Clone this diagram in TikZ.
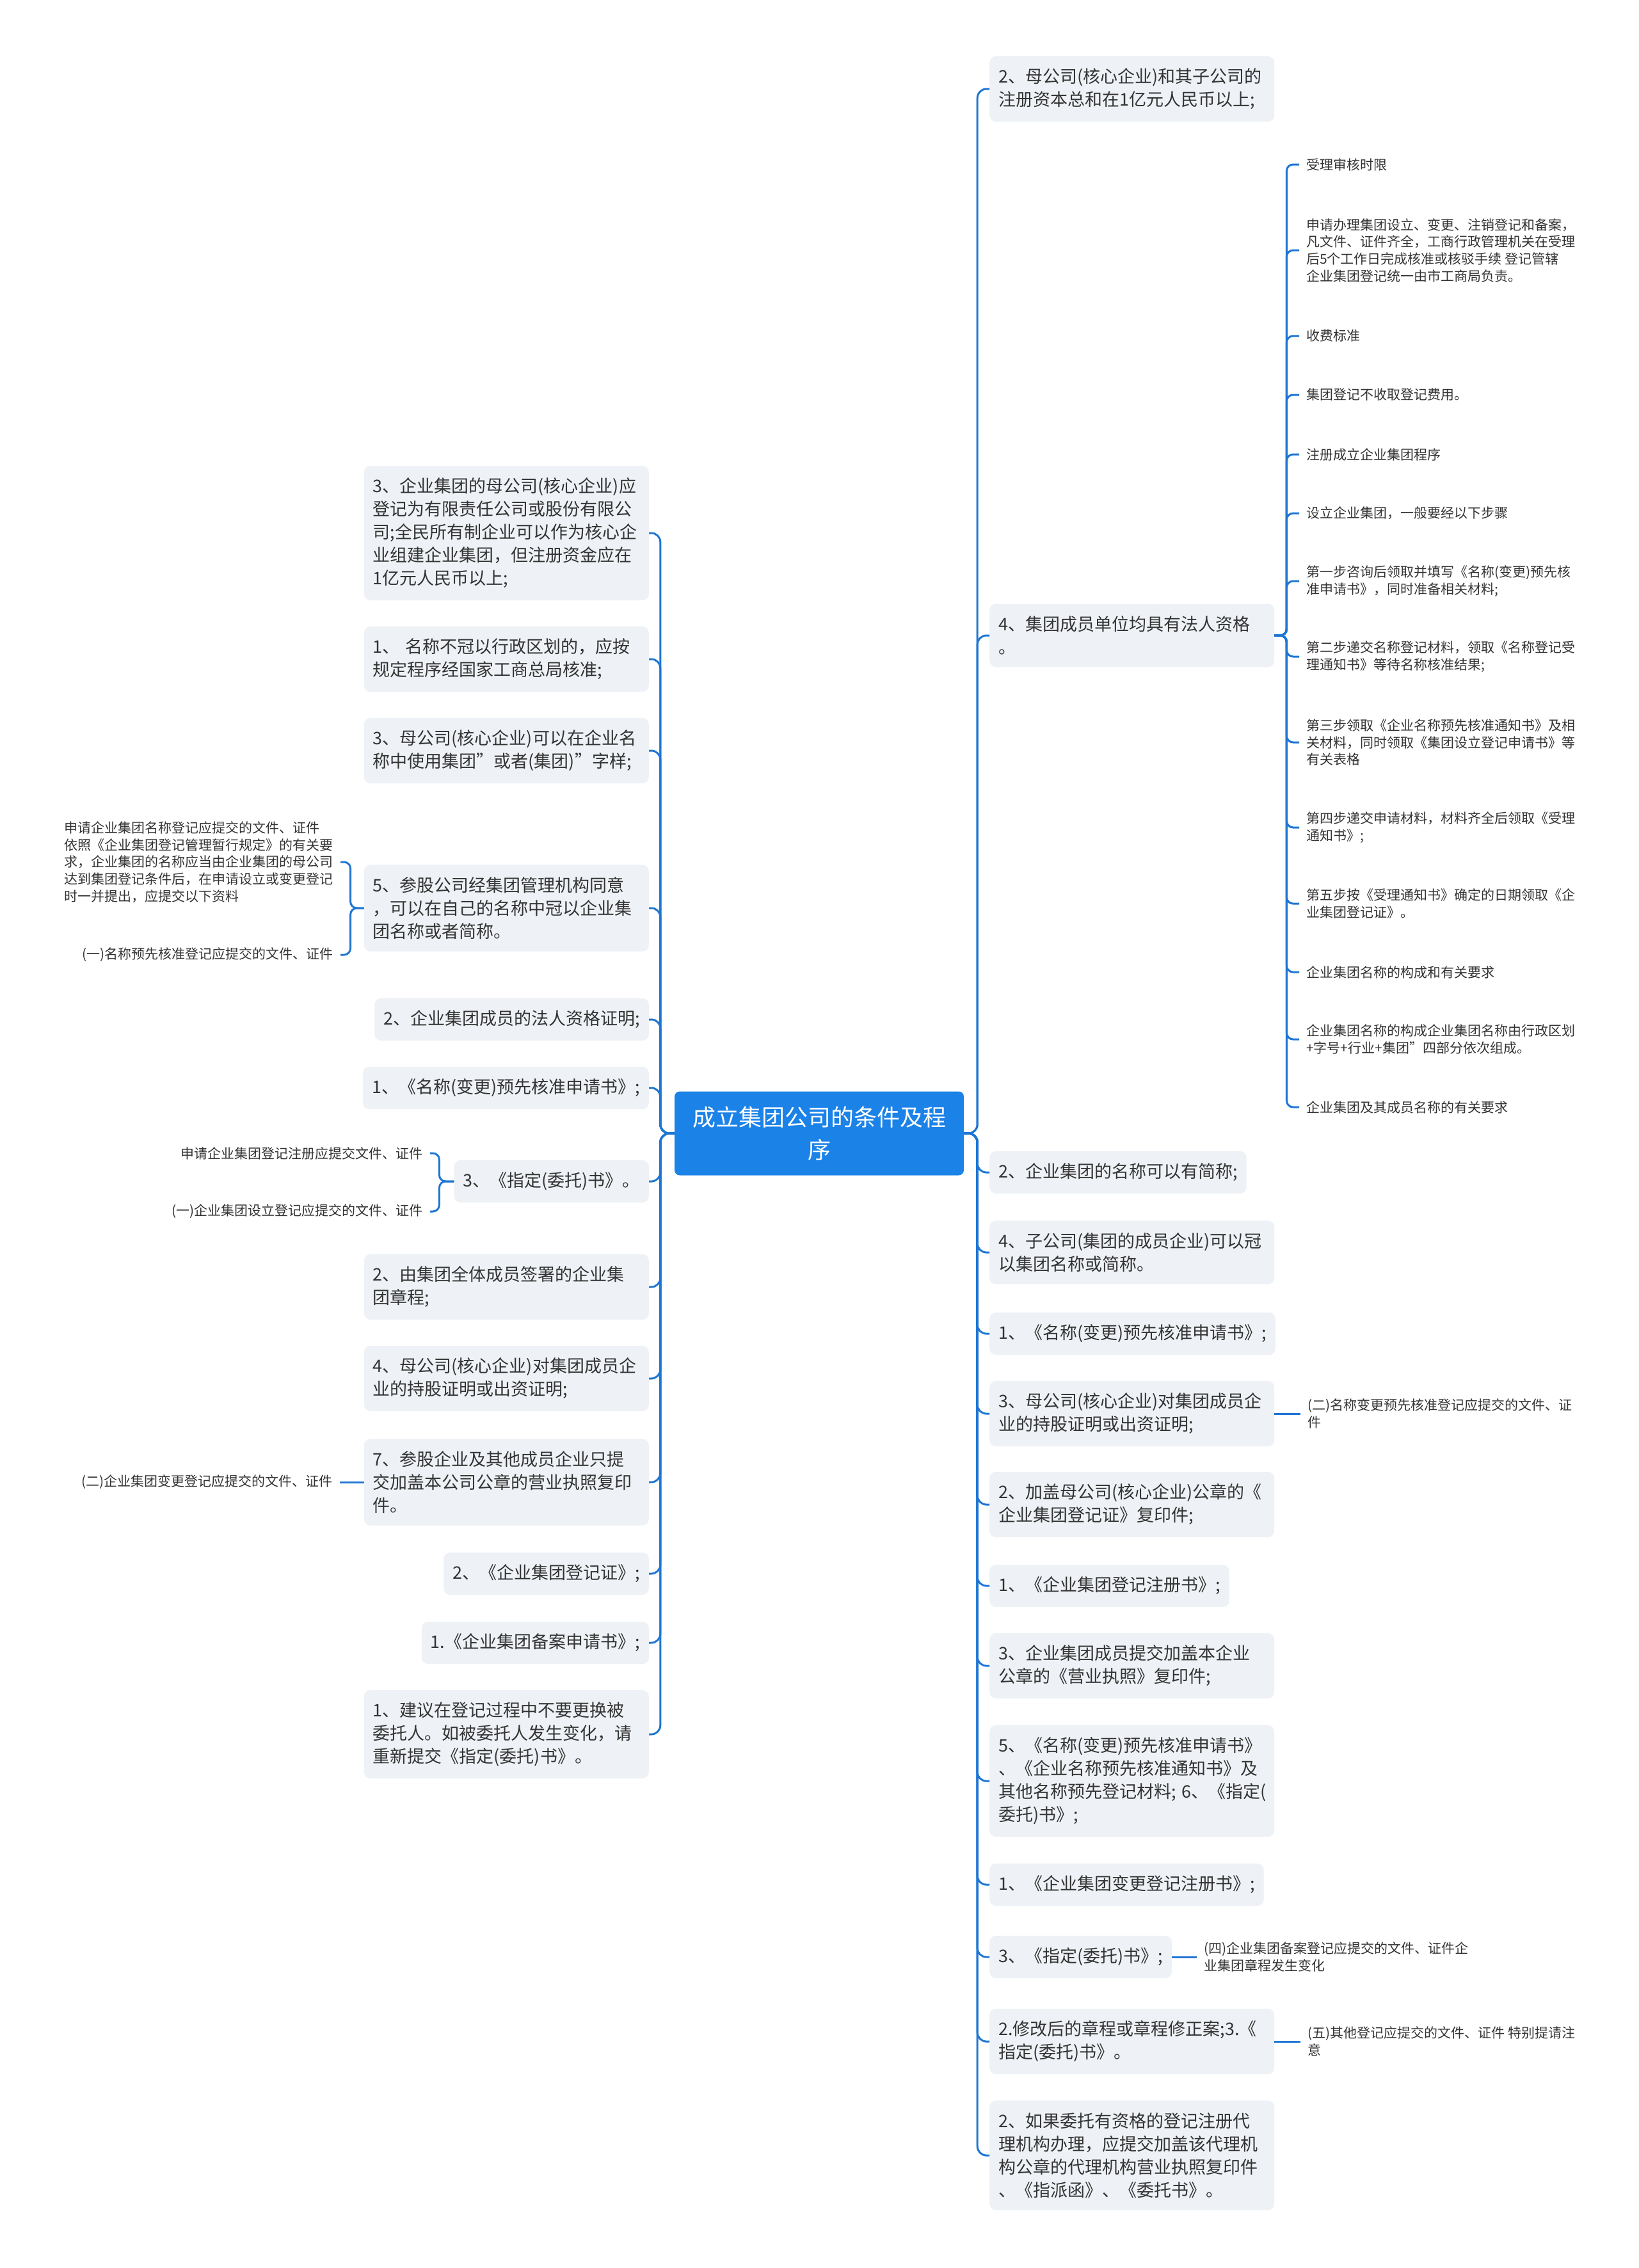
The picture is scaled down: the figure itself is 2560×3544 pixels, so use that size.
\documentclass[tikz,border=0pt]{standalone}
\usepackage{fontspec}
\setmainfont{Noto Sans CJK SC}
\usetikzlibrary{positioning}
\definecolor{rootblue}{HTML}{1B82E8}
\definecolor{linkblue}{HTML}{1E76D3}
\definecolor{boxgray}{HTML}{EEF1F5}
\definecolor{textdark}{HTML}{333333}

\begin{document}
\begin{tikzpicture}[x=1pt,y=-1pt,
    card/.style={fill=boxgray,rounded corners=10pt,inner xsep=14pt,inner ysep=19pt,
      text width=417pt,align=left,text=textdark,font=\fontsize{27}{36}\selectfont},
    cardone/.style={fill=boxgray,rounded corners=10pt,inner xsep=14pt,inner ysep=19pt,
      text=textdark,font=\fontsize{27}{36}\selectfont},
    leaf/.style={inner xsep=11pt,inner ysep=0pt,align=left,text=textdark,
      font=\fontsize{21}{26.7}\selectfont},
    link/.style={draw=linkblue,line width=3pt,rounded corners=14pt},
    twig/.style={draw=linkblue,line width=3pt,rounded corners=10pt}]
  \fill[white] (0,0) rectangle (2560,3544);
  \useasboundingbox (0,0) rectangle (2560,3544);
  \node[fill=rootblue,rounded corners=8pt,minimum width=452pt,minimum height=131pt,
        text width=420pt,align=center,text=white,font=\fontsize{36}{51}\selectfont]
        (root) at (1280,1771) {成立集团公司的条件及程\\序};
  \node[card,anchor=east] (l1) at (1014,833) {3、企业集团的母公司(核心企业)应\\登记为有限责任公司或股份有限公\\司;全民所有制企业可以作为核心企\\业组建企业集团，但注册资金应在\\1亿元人民币以上;};
  \node[card,anchor=east] (l2) at (1014,1030) {1、~名称不冠以行政区划的，应按\\规定程序经国家工商总局核准;};
  \node[card,anchor=east] (l3) at (1014,1173) {3、母公司(核心企业)可以在企业名\\称中使用集团”或者(集团)”字样;};
  \node[card,anchor=east] (l4) at (1014,1419) {5、参股公司经集团管理机构同意\\，可以在自己的名称中冠以企业集\\团名称或者简称。};
  \node[cardone,anchor=east] (l5) at (1014,1593) {2、企业集团成员的法人资格证明;};
  \node[cardone,anchor=east] (l6) at (1014,1700) {1、《名称(变更)预先核准申请书》;};
  \node[cardone,anchor=east] (l7) at (1014,1846) {3、《指定(委托)书》。};
  \node[card,anchor=east] (l8) at (1014,2011) {2、由集团全体成员签署的企业集\\团章程;};
  \node[card,anchor=east] (l9) at (1014,2154) {4、母公司(核心企业)对集团成员企\\业的持股证明或出资证明;};
  \node[card,anchor=east] (l10) at (1014,2316) {7、参股企业及其他成员企业只提\\交加盖本公司公章的营业执照复印\\件。};
  \node[cardone,anchor=east] (l11) at (1014,2459) {2、《企业集团登记证》;};
  \node[cardone,anchor=east] (l12) at (1014,2567) {1.《企业集团备案申请书》;};
  \node[card,anchor=east] (l13) at (1014,2710) {1、建议在登记过程中不要更换被\\委托人。如被委托人发生变化，请\\重新提交《指定(委托)书》。};
  \node[leaf,anchor=east] (ll1) at (532,1347) {申请企业集团名称登记应提交的文件、证件\\依照《企业集团登记管理暂行规定》的有关要\\求，企业集团的名称应当由企业集团的母公司\\达到集团登记条件后，在申请设立或变更登记\\时一并提出，应提交以下资料};
  \node[leaf,anchor=east] (ll2) at (532,1492) {(一)名称预先核准登记应提交的文件、证件};
  \node[leaf,anchor=east] (ll3) at (672,1802) {申请企业集团登记注册应提交文件、证件};
  \node[leaf,anchor=east] (ll4) at (672,1893) {(一)企业集团设立登记应提交的文件、证件};
  \node[leaf,left=38pt of l10] (ll5) {(二)企业集团变更登记应提交的文件、证件};
  \node[card,anchor=west] (r1) at (1546,139) {2、母公司(核心企业)和其子公司的\\注册资本总和在1亿元人民币以上;};
  \node[card,anchor=west] (r2) at (1546,993) {4、集团成员单位均具有法人资格\\。};
  \node[cardone,anchor=west] (r3) at (1546,1832) {2、企业集团的名称可以有简称;};
  \node[card,anchor=west] (r4) at (1546,1957) {4、子公司(集团的成员企业)可以冠\\以集团名称或简称。};
  \node[cardone,anchor=west] (r5) at (1546,2084) {1、《名称(变更)预先核准申请书》;};
  \node[card,anchor=west] (r6) at (1546,2209) {3、母公司(核心企业)对集团成员企\\业的持股证明或出资证明;};
  \node[card,anchor=west] (r7) at (1546,2351) {2、加盖母公司(核心企业)公章的《\\企业集团登记证》复印件;};
  \node[cardone,anchor=west] (r8) at (1546,2478) {1、《企业集团登记注册书》;};
  \node[card,anchor=west] (r9) at (1546,2603) {3、企业集团成员提交加盖本企业\\公章的《营业执照》复印件;};
  \node[card,anchor=west] (r10) at (1546,2783) {5、《名称(变更)预先核准申请书》\\、《企业名称预先核准通知书》及\\其他名称预先登记材料;~6、《指定(\\委托)书》;};
  \node[cardone,anchor=west] (r11) at (1546,2945) {1、《企业集团变更登记注册书》;};
  \node[cardone,anchor=west] (r12) at (1546,3058) {3、《指定(委托)书》;};
  \node[card,anchor=west] (r13) at (1546,3190) {2.修改后的章程或章程修正案;3.《\\指定(委托)书》。};
  \node[card,anchor=west] (r14) at (1546,3368) {2、如果委托有资格的登记注册代\\理机构办理，应提交加盖该代理机\\构公章的代理机构营业执照复印件\\、《指派函》、《委托书》。};
  \node[leaf,anchor=west] (c1) at (2030,257) {受理审核时限};
  \node[leaf,anchor=west] (c2) at (2030,391) {申请办理集团设立、变更、注销登记和备案，\\凡文件、证件齐全，工商行政管理机关在受理\\后5个工作日完成核准或核驳手续 登记管辖\\企业集团登记统一由市工商局负责。};
  \node[leaf,anchor=west] (c3) at (2030,525) {收费标准};
  \node[leaf,anchor=west] (c4) at (2030,617) {集团登记不收取登记费用。};
  \node[leaf,anchor=west] (c5) at (2030,710) {注册成立企业集团程序};
  \node[leaf,anchor=west] (c6) at (2030,802) {设立企业集团，一般要经以下步骤};
  \node[leaf,anchor=west] (c7) at (2030,908) {第一步咨询后领取并填写《名称(变更)预先核\\准申请书》，同时准备相关材料;};
  \node[leaf,anchor=west] (c8) at (2030,1026) {第二步递交名称登记材料，领取《名称登记受\\理通知书》等待名称核准结果;};
  \node[leaf,anchor=west] (c9) at (2030,1160) {第三步领取《企业名称预先核准通知书》及相\\关材料，同时领取《集团设立登记申请书》等\\有关表格};
  \node[leaf,anchor=west] (c10) at (2030,1293) {第四步递交申请材料，材料齐全后领取《受理\\通知书》;};
  \node[leaf,anchor=west] (c11) at (2030,1412) {第五步按《受理通知书》确定的日期领取《企\\业集团登记证》。};
  \node[leaf,anchor=west] (c12) at (2030,1519) {企业集团名称的构成和有关要求};
  \node[leaf,anchor=west] (c13) at (2030,1624) {企业集团名称的构成企业集团名称由行政区划\\+字号+行业+集团”四部分依次组成。};
  \node[leaf,anchor=west] (c14) at (2030,1730) {企业集团及其成员名称的有关要求};
  \node[leaf,right=41pt of r6] (d1) {(二)名称变更预先核准登记应提交的文件、证\\件};
  \node[leaf,right=39pt of r12] (d2) {(四)企业集团备案登记应提交的文件、证件企\\业集团章程发生变化};
  \node[leaf,right=41pt of r13] (d3) {(五)其他登记应提交的文件、证件 特别提请注\\意};
  \draw[link] (root.west) -- ++(-22,0) |- (l1.east);
  \draw[link] (root.west) -- ++(-22,0) |- (l2.east);
  \draw[link] (root.west) -- ++(-22,0) |- (l3.east);
  \draw[link] (root.west) -- ++(-22,0) |- (l4.east);
  \draw[link] (root.west) -- ++(-22,0) |- (l5.east);
  \draw[link] (root.west) -- ++(-22,0) |- (l6.east);
  \draw[link] (root.west) -- ++(-22,0) |- (l7.east);
  \draw[link] (root.west) -- ++(-22,0) |- (l8.east);
  \draw[link] (root.west) -- ++(-22,0) |- (l9.east);
  \draw[link] (root.west) -- ++(-22,0) |- (l10.east);
  \draw[link] (root.west) -- ++(-22,0) |- (l11.east);
  \draw[link] (root.west) -- ++(-22,0) |- (l12.east);
  \draw[link] (root.west) -- ++(-22,0) |- (l13.east);
  \draw[twig] (l4.west) -- ++(-21,0) |- (ll1.east);
  \draw[twig] (l4.west) -- ++(-21,0) |- (ll2.east);
  \draw[twig] (l7.west) -- ++(-23,0) |- (ll3.east);
  \draw[twig] (l7.west) -- ++(-23,0) |- (ll4.east);
  \draw[twig] (l10.west) -- (ll5.east);
  \draw[link] (root.east) -- ++(21,0) |- (r1.west);
  \draw[link] (root.east) -- ++(21,0) |- (r2.west);
  \draw[link] (root.east) -- ++(21,0) |- (r3.west);
  \draw[link] (root.east) -- ++(21,0) |- (r4.west);
  \draw[link] (root.east) -- ++(21,0) |- (r5.west);
  \draw[link] (root.east) -- ++(21,0) |- (r6.west);
  \draw[link] (root.east) -- ++(21,0) |- (r7.west);
  \draw[link] (root.east) -- ++(21,0) |- (r8.west);
  \draw[link] (root.east) -- ++(21,0) |- (r9.west);
  \draw[link] (root.east) -- ++(21,0) |- (r10.west);
  \draw[link] (root.east) -- ++(21,0) |- (r11.west);
  \draw[link] (root.east) -- ++(21,0) |- (r12.west);
  \draw[link] (root.east) -- ++(21,0) |- (r13.west);
  \draw[link] (root.east) -- ++(21,0) |- (r14.west);
  \draw[twig] (r2.east) -- ++(19,0) |- (c1.west);
  \draw[twig] (r2.east) -- ++(19,0) |- (c2.west);
  \draw[twig] (r2.east) -- ++(19,0) |- (c3.west);
  \draw[twig] (r2.east) -- ++(19,0) |- (c4.west);
  \draw[twig] (r2.east) -- ++(19,0) |- (c5.west);
  \draw[twig] (r2.east) -- ++(19,0) |- (c6.west);
  \draw[twig] (r2.east) -- ++(19,0) |- (c7.west);
  \draw[twig] (r2.east) -- ++(19,0) |- (c8.west);
  \draw[twig] (r2.east) -- ++(19,0) |- (c9.west);
  \draw[twig] (r2.east) -- ++(19,0) |- (c10.west);
  \draw[twig] (r2.east) -- ++(19,0) |- (c11.west);
  \draw[twig] (r2.east) -- ++(19,0) |- (c12.west);
  \draw[twig] (r2.east) -- ++(19,0) |- (c13.west);
  \draw[twig] (r2.east) -- ++(19,0) |- (c14.west);
  \draw[twig] (r6.east) -- (d1.west);
  \draw[twig] (r12.east) -- (d2.west);
  \draw[twig] (r13.east) -- (d3.west);
\end{tikzpicture}
\end{document}
